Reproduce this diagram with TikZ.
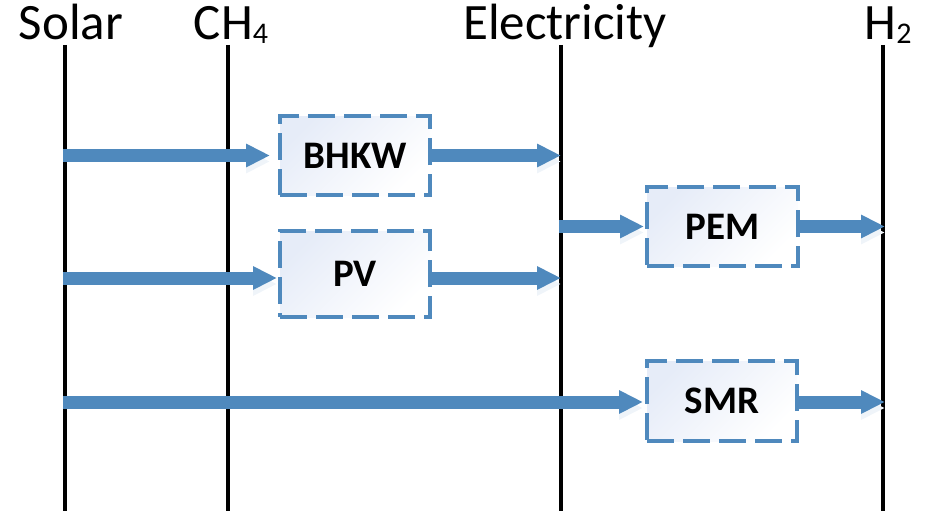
\documentclass[tikz,border=0pt]{standalone}
\usepackage{fontspec}
\setmainfont{Carlito}
\usetikzlibrary{arrows.meta}
\definecolor{flowblue}{RGB}{79,137,189}
\definecolor{boxtint}{RGB}{230,236,248}
\begin{document}
\begin{tikzpicture}[x=1pt,y=-1pt,
  axisline/.style={line width=3.5pt,black},
  head/.style={font=\fontsize{51}{51}\selectfont,anchor=base,inner sep=0pt},
  proc/.style={draw=flowblue,line width=4pt,dash pattern=on 27pt off 9pt,
    top color=boxtint,bottom color=white,shading angle=45,inner sep=0pt,
    font=\fontsize{39}{39}\selectfont\bfseries},
  flow/.style={draw=flowblue,line width=13pt,-{Triangle[length=24pt,width=22pt]},
    preaction={draw=flowblue!9,transform canvas={yshift=-6pt}}}]
\useasboundingbox (0,0) rectangle (926,511);

% column headers
\node[head] (solar) at (71,40) {Solar};
\node[head] (ch4) at (231,40) {CH{\fontsize{30}{30}\selectfont\raisebox{-4pt}{4}}};
\node[head] (elec) at (565,40) {Electricity};
\node[head] (h2) at (888,40) {H{\fontsize{30}{30}\selectfont\raisebox{-4pt}{2}}};

% vertical lines
\coordinate (sT) at (65,45);  \coordinate (sB) at (65,511);
\coordinate (cT) at (228,45); \coordinate (cB) at (228,511);
\coordinate (eT) at (561,45); \coordinate (eB) at (561,511);
\coordinate (hT) at (883,45); \coordinate (hB) at (883,511);
\draw[axisline] (sT) -- (sB);
\draw[axisline] (cT) -- (cB);
\draw[axisline] (eT) -- (eB);
\draw[axisline] (hT) -- (hB);

% process boxes
\node[proc,minimum width=150pt,minimum height=79pt] (bhkw) at (355,155.5) {BHKW};
\node[proc,minimum width=150pt,minimum height=86pt] (pv) at (355,274) {PV};
\node[proc,minimum width=151pt,minimum height=79pt] (pem) at (722.5,226.5) {PEM};
\node[proc,minimum width=150pt,minimum height=80pt] (smr) at (722,401) {SMR};

% anchor points on the lines
\coordinate (a1) at (63,155.5);
\coordinate (a2) at (63,278);
\coordinate (a3) at (63,402);
\coordinate (e1) at (561,155.5);
\coordinate (e2) at (559,226.5);
\coordinate (e3) at (561,278);
\coordinate (h1) at (885,226.5);
\coordinate (h2p) at (885,402);

% flows
\draw[flow,shorten >=8pt] (a1) -- (bhkw.west);
\draw[flow] (bhkw.east) -- (e1);
\draw[flow,shorten >=1pt] (e2) -- (pem.west);
\draw[flow] (pem.east) -- (h1);
\draw[flow,shorten >=1pt] (a2) -- (pv.west |- a2);
\draw[flow] (pv.east |- a2) -- (e3);
\draw[flow,shorten >=2pt] (a3) -- (smr.west |- a3);
\draw[flow] (smr.east |- a3) -- (h2p);
\end{tikzpicture}
\end{document}
